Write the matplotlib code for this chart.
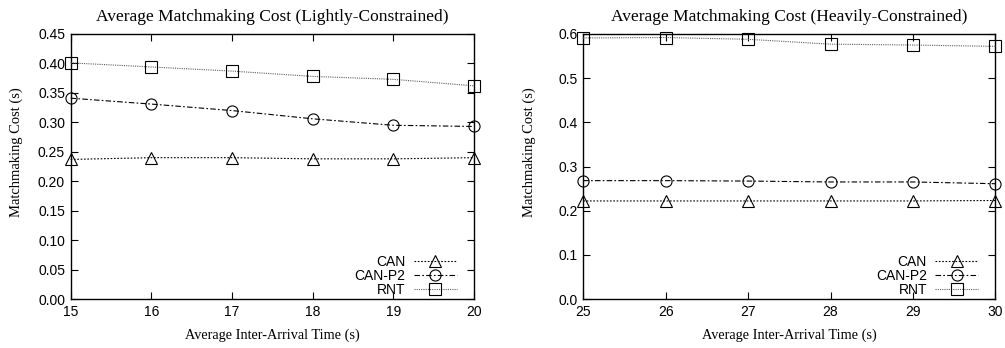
import matplotlib
matplotlib.use("Agg")
import matplotlib.pyplot as plt

# Average inter-arrival times (s)
light_x = [15, 16, 17, 18, 19, 20]
heavy_x = [25, 26, 27, 28, 29, 30]

# Matchmaking cost (s), lightly-constrained workload
light_can = [0.237, 0.240, 0.240, 0.238, 0.238, 0.240]
light_canp2 = [0.341, 0.331, 0.320, 0.306, 0.295, 0.293]
light_rnt = [0.401, 0.394, 0.387, 0.378, 0.373, 0.362]

# Matchmaking cost (s), heavily-constrained workload
heavy_can = [0.222, 0.222, 0.222, 0.222, 0.222, 0.223]
heavy_canp2 = [0.268, 0.268, 0.267, 0.265, 0.265, 0.261]
heavy_rnt = [0.591, 0.592, 0.588, 0.577, 0.575, 0.572]

series_names = ["CAN", "CAN-P2", "RNT"]

plt.rcParams["font.family"] = ["Liberation Sans", "DejaVu Sans"]
SERIF = ["Liberation Serif", "DejaVu Serif"]

styles = [
    dict(marker="^", linestyle=(0, (1.5, 1.5)), color="black"),
    dict(marker="o", linestyle=(0, (5, 2, 1.5, 2)), color="black"),
    dict(marker="s", linestyle=(0, (1, 1)), color="#606060"),
]

fig = plt.figure(figsize=(10.05, 3.48), dpi=100)
ax1 = fig.add_axes([0.0703, 0.1408, 0.4013, 0.7615])
ax2 = fig.add_axes([0.5804, 0.1408, 0.4100, 0.7615])


def draw(ax, x, ys, ylim, yticks, yfmt, title):
    for y, name, st in zip(ys, series_names, styles):
        ax.plot(x, y, label=name, linewidth=0.8, color=st["color"],
                linestyle=st["linestyle"], marker=st["marker"],
                markersize=8, markerfacecolor="none",
                markeredgecolor="black", markeredgewidth=0.8,
                clip_on=False, zorder=3)
    ax.set_xlim(x[0], x[-1])
    ax.set_ylim(*ylim)
    ax.set_xticks(x)
    ax.set_yticks(yticks)
    ax.set_yticklabels([yfmt.format(v) for v in yticks])
    ax.tick_params(direction="in", top=True, right=True, length=5,
                   width=0.8, labelsize=10, pad=4)
    for sp in ax.spines.values():
        sp.set_linewidth(1.0)
    ax.set_title(title, fontfamily=SERIF, fontsize=12.5, pad=9)
    ax.set_xlabel("Average Inter-Arrival Time (s)", fontfamily=SERIF,
                  fontsize=10.3, labelpad=7)
    ax.set_ylabel("Matchmaking Cost (s)", fontfamily=SERIF, fontsize=10.5)
    w = ax.get_position().width * fig.get_figwidth() * fig.dpi
    ax.yaxis.set_label_coords(-(70.7 - 23) / w, 0.555)
    ax.legend(loc="lower right", frameon=False, markerfirst=False,
              handlelength=3.1, handletextpad=0.6, labelspacing=0.0,
              fontsize=10, borderaxespad=0.0,
              bbox_to_anchor=(1 - 11.5 / w, -0.012))


draw(ax1, light_x, [light_can, light_canp2, light_rnt], (0, 0.45),
     [i * 0.05 for i in range(10)], "{:.2f}",
     "Average Matchmaking Cost (Lightly-Constrained)")
draw(ax2, heavy_x, [heavy_can, heavy_canp2, heavy_rnt], (0, 0.6),
     [i * 0.1 for i in range(7)], "{:.1f}",
     "Average Matchmaking Cost (Heavily-Constrained)")

fig.savefig("out.png", dpi=100)
